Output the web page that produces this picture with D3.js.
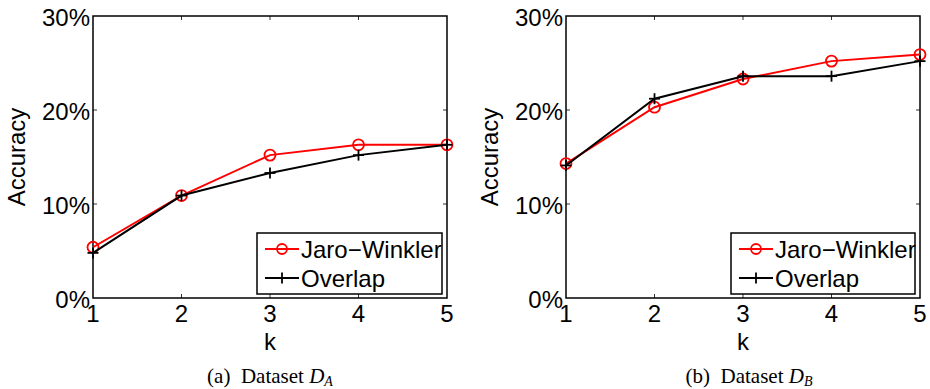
<!DOCTYPE html>
<html>
<head>
<meta charset="utf-8">
<script src="https://cdn.jsdelivr.net/npm/d3@7"></script>
<style>
  html, body { margin: 0; padding: 0; background: #fff; }
  svg { display: block; }
</style>
</head>
<body>
<svg id="chart" width="930" height="389"></svg>
<script>
// k values on the x axis
const kValues = [1, 2, 3, 4, 5];
const xTickLabels = ["1", "2", "3", "4", "5"];
const yTickValues = [0, 0.1, 0.2, 0.3];
const yTickLabels = ["0%", "10%", "20%", "30%"];
const seriesNames = ["Jaro\u2212Winkler", "Overlap"];

// Dataset D_A
const jaroA = [0.054, 0.109, 0.152, 0.163, 0.163];
const overlapA = [0.048, 0.109, 0.133, 0.152, 0.163];
// Dataset D_B
const jaroB = [0.143, 0.203, 0.233, 0.252, 0.259];
const overlapB = [0.141, 0.212, 0.236, 0.236, 0.252];

const svg = d3.select("#chart");
const sans = "'Liberation Sans', Arial, Helvetica, sans-serif";
const serif = "'Liberation Serif', 'Times New Roman', serif";
const fs = 24;

function panel(opts) {
  const { left, right, top, bottom, jaro, overlap, caption, sub, captionX, legendX } = opts;
  const g = svg.append("g");
  const x = d3.scaleLinear().domain([1, 5]).range([left, right]);
  const y = d3.scaleLinear().domain([0, 0.3]).range([bottom, top]);

  // inward ticks on all four sides
  const tickLen = 4;
  const tickCol = "#333";
  kValues.slice(1, -1).forEach(k => {
    g.append("line").attr("x1", x(k)).attr("x2", x(k)).attr("y1", bottom).attr("y2", bottom - tickLen)
      .attr("stroke", tickCol).attr("stroke-width", 1);
    g.append("line").attr("x1", x(k)).attr("x2", x(k)).attr("y1", top).attr("y2", top + tickLen)
      .attr("stroke", tickCol).attr("stroke-width", 1);
  });
  yTickValues.slice(1, -1).forEach(v => {
    g.append("line").attr("x1", left).attr("x2", left + tickLen).attr("y1", y(v)).attr("y2", y(v))
      .attr("stroke", tickCol).attr("stroke-width", 1);
    g.append("line").attr("x1", right).attr("x2", right - tickLen).attr("y1", y(v)).attr("y2", y(v))
      .attr("stroke", tickCol).attr("stroke-width", 1);
  });

  // frame
  g.append("rect").attr("x", left).attr("y", top).attr("width", right - left).attr("height", bottom - top)
    .attr("fill", "none").attr("stroke", "#000").attr("stroke-width", 1.5);

  // tick labels
  kValues.forEach((k, i) => {
    g.append("text").attr("x", x(k)).attr("y", bottom + 24)
      .attr("text-anchor", "middle").attr("font-family", sans).attr("font-size", fs)
      .text(xTickLabels[i]);
  });
  yTickValues.forEach((v, i) => {
    g.append("text").attr("x", left - 3).attr("y", y(v) + 10)
      .attr("text-anchor", "end").attr("font-family", sans).attr("font-size", fs)
      .text(yTickLabels[i]);
  });

  // axis titles
  g.append("text").attr("x", (left + right) / 2).attr("y", bottom + 52)
    .attr("text-anchor", "middle").attr("font-family", sans).attr("font-size", fs).text("k");
  g.append("text")
    .attr("transform", `translate(${left - 76},${(top + bottom) / 2}) rotate(-90)`)
    .attr("text-anchor", "middle").attr("dy", "0.35em")
    .attr("font-family", sans).attr("font-size", fs).text("Accuracy");

  const line = d3.line().x((d, i) => x(kValues[i])).y(d => y(d));

  // Jaro-Winkler series
  g.append("path").datum(jaro).attr("d", line).attr("fill", "none")
    .attr("stroke", "#ff0000").attr("stroke-width", 2);
  g.selectAll(null).data(jaro).enter().append("circle")
    .attr("cx", (d, i) => x(kValues[i])).attr("cy", d => y(d)).attr("r", 5.5)
    .attr("fill", "none").attr("stroke", "#ff0000").attr("stroke-width", 1.8);

  // Overlap series
  g.append("path").datum(overlap).attr("d", line).attr("fill", "none")
    .attr("stroke", "#000").attr("stroke-width", 2);
  overlap.forEach((d, i) => {
    const cx = x(kValues[i]), cy = y(d), s = 5.5;
    g.append("line").attr("x1", cx - s).attr("x2", cx + s).attr("y1", cy).attr("y2", cy)
      .attr("stroke", "#000").attr("stroke-width", 1.8);
    g.append("line").attr("x1", cx).attr("x2", cx).attr("y1", cy - s).attr("y2", cy + s)
      .attr("stroke", "#000").attr("stroke-width", 1.8);
  });

  // legend
  const lx = legendX, ly = 233, lw = right - 5 - legendX, lh = 61;
  const lg = g.append("g");
  lg.append("rect").attr("x", lx).attr("y", ly).attr("width", lw).attr("height", lh)
    .attr("fill", "#fff").attr("stroke", "#000").attr("stroke-width", 1.5);
  const rows = [
    { name: seriesNames[0], color: "#ff0000", marker: "circle", cy: ly + 16 },
    { name: seriesNames[1], color: "#000", marker: "plus", cy: ly + 45 }
  ];
  rows.forEach(r => {
    const x1 = lx + 8, x2 = lx + 42, mx = (x1 + x2) / 2;
    lg.append("line").attr("x1", x1).attr("x2", x2).attr("y1", r.cy).attr("y2", r.cy)
      .attr("stroke", r.color).attr("stroke-width", 2);
    if (r.marker === "circle") {
      lg.append("circle").attr("cx", mx).attr("cy", r.cy).attr("r", 5)
        .attr("fill", "none").attr("stroke", r.color).attr("stroke-width", 1.8);
    } else {
      lg.append("line").attr("x1", mx).attr("x2", mx).attr("y1", r.cy - 5.5).attr("y2", r.cy + 5.5)
        .attr("stroke", r.color).attr("stroke-width", 1.8);
    }
    lg.append("text").attr("x", x2 + 2).attr("y", r.cy + 8.5)
      .attr("font-family", sans).attr("font-size", fs).text(r.name);
  });

  // caption
  const cap = g.append("text").attr("x", captionX).attr("y", 383)
    .attr("text-anchor", "middle").attr("font-family", serif).attr("font-size", 21);
  cap.append("tspan").text(caption + "\u00a0\u00a0Dataset ");
  cap.append("tspan").attr("font-style", "italic").text("D");
  cap.append("tspan").attr("font-style", "italic").attr("font-size", 14).attr("dy", 3).text(sub);
}

panel({ left: 93, right: 447, top: 16, bottom: 298, jaro: jaroA, overlap: overlapA,
        caption: "(a)", sub: "A", captionX: 270, legendX: 257 });
panel({ left: 566, right: 920, top: 16, bottom: 298, jaro: jaroB, overlap: overlapB,
        caption: "(b)", sub: "B", captionX: 749, legendX: 731 });
</script>
</body>
</html>
